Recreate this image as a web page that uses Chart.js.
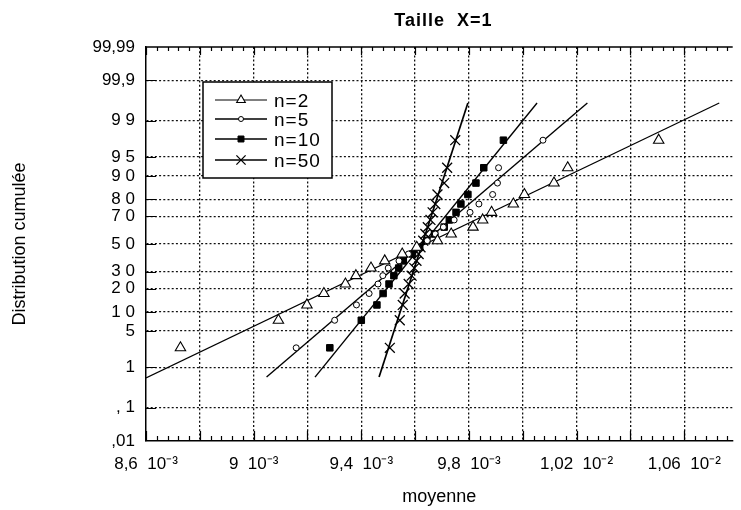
<!DOCTYPE html>
<html><head><meta charset="utf-8">
<script src="https://cdn.jsdelivr.net/npm/chart.js"></script>
<style>html,body{margin:0;padding:0;background:#fff}#wrap{width:741px;height:510px;position:relative}</style>
</head><body><div id="wrap"><canvas id="c"></canvas></div>
<script>
// ---- data (x values in units of 1e-3, cumulative distribution in %) ----
const cumulPct = [2.5,7.5,12.5,17.5,22.5,27.5,32.5,37.5,42.5,47.5,52.5,57.5,62.5,67.5,72.5,77.5,82.5,87.5,92.5,97.5];
const moyN2  = [8.728,9.092,9.198,9.261,9.341,9.380,9.436,9.487,9.552,9.606,9.683,9.734,9.815,9.851,9.884,9.965,10.006,10.116,10.167,10.505];
const moyN5  = [9.158,9.301,9.382,9.429,9.462,9.480,9.500,9.540,9.575,9.608,9.645,9.675,9.705,9.745,9.804,9.837,9.888,9.906,9.910,10.075];
const moyN10 = [9.283,9.400,9.458,9.481,9.503,9.521,9.539,9.556,9.590,9.617,9.643,9.672,9.708,9.727,9.752,9.770,9.796,9.826,9.855,9.928];
const moyN50 = [9.506,9.543,9.554,9.561,9.576,9.587,9.597,9.605,9.613,9.620,9.630,9.638,9.647,9.657,9.665,9.675,9.683,9.708,9.719,9.749];
// fitted straight lines (end points)
const fitN2X = [8.6, 10.73],   fitN2P = [0.57, 99.61];
const fitN5X = [9.048, 10.24], fitN5P = [0.60, 99.61];
const fitN10X = [9.228, 10.053], fitN10P = [0.60, 99.61];
const fitN50X = [9.466, 9.796], fitN50P = [0.60, 99.61];
const seriesNames = ['n=2','n=5','n=10','n=50'];
const yTickPct = [0.01,0.1,1,5,10,20,30,50,70,80,90,95,99,99.9,99.99];
const yTickLabels = [',01',', 1','1','5','1 0','2 0','3 0','5 0','7 0','8 0','9 0','9 5','9 9','99,9','99,99'];
const xTickValues = [8.6,8.8,9.0,9.2,9.4,9.6,9.8,10.0,10.2,10.4,10.6];
const xTickLabels = ['8,6  10⁻³','','9  10⁻³','','9,4  10⁻³','','9,8  10⁻³','','1,02  10⁻²','','1,06  10⁻²'];
const xMin = 8.6, xMax = 10.78;

// probability (normal) scale transform
function probit(p){
  const a=[-3.969683028665376e+01,2.209460984245205e+02,-2.759285104469687e+02,1.383577518672690e+02,-3.066479806614716e+01,2.506628277459239e+00];
  const b=[-5.447609879822406e+01,1.615858368580409e+02,-1.556989798598866e+02,6.680131188771972e+01,-1.328068155288572e+01];
  const c=[-7.784894002430293e-03,-3.223964580411365e-01,-2.400758277161838e+00,-2.549732539343734e+00,4.374664141464968e+00,2.938163982698783e+00];
  const d=[7.784695709041462e-03,3.224671290700398e-01,2.445134137142996e+00,3.754408661907416e+00];
  const pl=0.02425, ph=1-pl; let q,r;
  if(p<pl){q=Math.sqrt(-2*Math.log(p));return (((((c[0]*q+c[1])*q+c[2])*q+c[3])*q+c[4])*q+c[5])/((((d[0]*q+d[1])*q+d[2])*q+d[3])*q+1);}
  if(p<=ph){q=p-0.5;r=q*q;return (((((a[0]*r+a[1])*r+a[2])*r+a[3])*r+a[4])*r+a[5])*q/(((((b[0]*r+b[1])*r+b[2])*r+b[3])*r+b[4])*r+1);}
  q=Math.sqrt(-2*Math.log(1-p));return -(((((c[0]*q+c[1])*q+c[2])*q+c[3])*q+c[4])*q+c[5])/((((d[0]*q+d[1])*q+d[2])*q+d[3])*q+1);
}
const z = pct => probit(pct/100);
const pts = (xs, ps) => xs.map((x,i)=>({x:x, y:z(ps[i])}));

const FONT = '"Liberation Sans", Arial, Helvetica, sans-serif';
const styles = [
  {pointStyle:'triangle', radius:6, bg:'#fff', bw:1.1, lw:1.2, lr:5},
  {pointStyle:'circle', radius:3, bg:'#fff', bw:1, lw:1.4, lr:2.5},
  {pointStyle:'rect', radius:4.6, bg:'#000', bw:1, lw:1.4, lr:4.2},
  {pointStyle:'crossRot', radius:7, bg:'#000', bw:1.3, lw:1.7, lr:6.5}
];
const seriesData = [moyN2, moyN5, moyN10, moyN50];
const fitData = [[fitN2X,fitN2P],[fitN5X,fitN5P],[fitN10X,fitN10P],[fitN50X,fitN50P]];

const datasets = [];
fitData.forEach((f,i)=>{
  datasets.push({type:'line', label:'fit '+seriesNames[i], data:pts(f[0],f[1]), borderColor:'#000',
    borderWidth:styles[i].lw, pointRadius:0, fill:false, order:2, tension:0});
});
seriesData.forEach((s,i)=>{
  datasets.push({type:'scatter', label:seriesNames[i], data:pts(s,cumulPct), pointStyle:styles[i].pointStyle,
    pointRadius:styles[i].radius, pointBackgroundColor:styles[i].bg, pointBorderColor:'#000',
    pointBorderWidth:styles[i].bw, order:1});
});

const decor = {
  id:'decor',
  afterDraw(chart){
    const ctx = chart.ctx, ca = chart.chartArea, xs = chart.scales.x, ys = chart.scales.y;
    ctx.save();
    ctx.strokeStyle = '#000';
    // top border
    ctx.lineWidth = 1.5;
    ctx.beginPath(); ctx.moveTo(ca.left, ca.top); ctx.lineTo(ca.right, ca.top); ctx.stroke();
    // inward ticks on x (bottom + top)
    ctx.lineWidth = 1.2;
    ctx.beginPath();
    for(let i=0;;i++){
      const v = xMin + i*0.04; if(v > xMax + 1e-9) break;
      const px = Math.round(xs.getPixelForValue(v)) + 0.5;
      const major = i % 5 === 0;
      ctx.moveTo(px, ca.bottom); ctx.lineTo(px, ca.bottom - (major?10:5));
      ctx.moveTo(px, ca.top); ctx.lineTo(px, ca.top + (major?8:4));
    }
    // inward ticks on y
    yTickPct.forEach((p,i)=>{
      if(i===0 || i===yTickPct.length-1) return;
      const py = Math.round(ys.getPixelForValue(z(p))) + 0.5;
      ctx.moveTo(ca.left, py); ctx.lineTo(ca.left + 10, py);
    });
    ctx.stroke();

    // legend box
    const bx = ca.left + 57, by = ca.top + 35, bw = 129, bh = 96;
    ctx.fillStyle = '#fff';
    ctx.fillRect(bx, by, bw, bh);
    ctx.lineWidth = 1.5;
    ctx.strokeRect(bx, by, bw, bh);
    const rowY = [by+18, by+37, by+57, by+78];
    ctx.font = '19px ' + FONT;
    if ('letterSpacing' in ctx) ctx.letterSpacing = '1px';
    ctx.textBaseline = 'middle';
    ctx.textAlign = 'left';
    ctx.fillStyle = '#000';
    seriesNames.forEach((n,i)=>{
      const y = rowY[i];
      ctx.lineWidth = i===0 ? 1 : 1.4;
      ctx.beginPath(); ctx.moveTo(bx+12, y); ctx.lineTo(bx+64, y); ctx.stroke();
      ctx.fillStyle = styles[i].bg; ctx.lineWidth = styles[i].bw;
      Chart.helpers.drawPoint(ctx, {pointStyle:styles[i].pointStyle, radius:styles[i].lr, rotation:0, borderWidth:styles[i].bw}, bx+38, y);
      ctx.fillStyle = '#000';
      ctx.fillText(n, bx+71, y+2);
    });
    // title
    ctx.font = 'bold 18px ' + FONT;
    if ('letterSpacing' in ctx) ctx.letterSpacing = '1px';
    ctx.textAlign = 'center';
    ctx.fillText('Taille  X=1', (ca.left+ca.right)/2 + 4, 21);
    ctx.restore();
  }
};

new Chart(document.getElementById('c'), {
  type:'scatter',
  data:{datasets},
  options:{
    responsive:true, maintainAspectRatio:false, animation:false, devicePixelRatio:1,
    layout:{padding:{top:47,left:0,right:0,bottom:0}},
    plugins:{legend:{display:false}, tooltip:{enabled:false}, title:{display:false}},
    scales:{
      x:{type:'linear', position:'bottom', min:xMin, max:xMax,
        afterBuildTicks:s=>{ s.ticks = xTickValues.map(v=>({value:v})); },
        afterFit:s=>{ s.height = 69; },
        ticks:{autoSkip:false, maxRotation:0, padding:13, color:'#000', font:{family:FONT,size:17},
          callback:(v,i)=>xTickLabels[i]},
        grid:{drawTicks:false, lineWidth:1.3,
          color:c=> (c.tick && Math.abs(c.tick.value - xMin) < 1e-9) ? 'rgba(0,0,0,0)' : '#111'},
        border:{display:true, color:'#000', width:1.5, dash:[2,2.2]},
        title:{display:true, text:'moyenne', color:'#000', font:{family:FONT,size:18}, padding:{top:0,bottom:2}}
      },
      y:{type:'linear', position:'left', min:z(0.01), max:z(99.99),
        afterBuildTicks:s=>{ s.ticks = yTickPct.map(p=>({value:z(p)})); },
        afterFit:s=>{ s.width = 146; },
        ticks:{autoSkip:false, padding:11, color:'#000', font:{family:FONT,size:17},
          callback:(v,i)=>yTickLabels[i]},
        grid:{drawTicks:false, lineWidth:1.3,
          color:c=> (c.index===0 || c.index===yTickPct.length-1) ? 'rgba(0,0,0,0)' : '#111'},
        border:{display:true, color:'#000', width:1.5, dash:[2,2.2]},
        title:{display:true, text:'Distribution cumulée', color:'#000', font:{family:FONT,size:18}, padding:{top:9,bottom:0}}
      }
    }
  },
  plugins:[decor]
});
</script></body></html>
